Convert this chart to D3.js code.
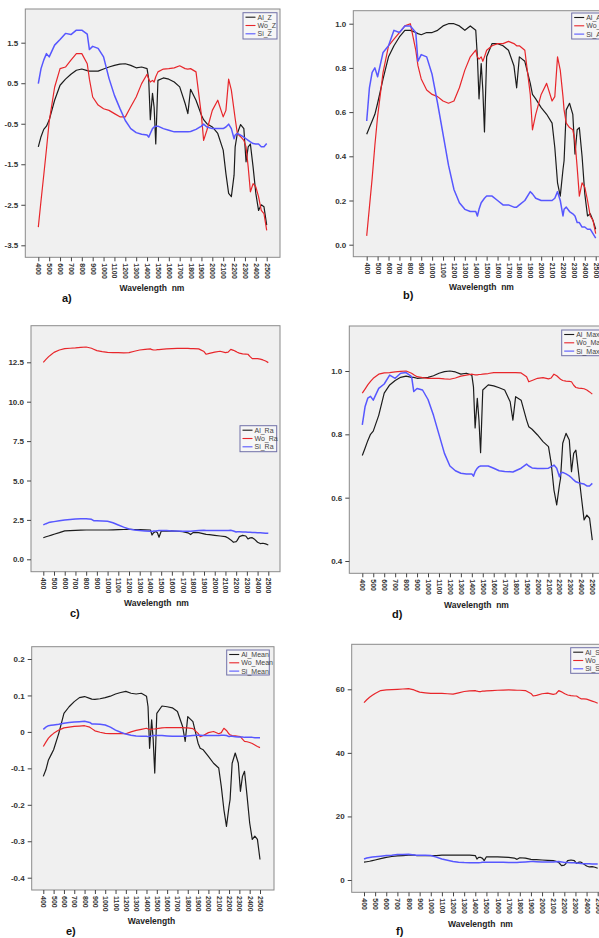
<!DOCTYPE html>
<html>
<head>
<meta charset="utf-8">
<script src="https://cdn.jsdelivr.net/npm/d3@7"></script>
<style>
  body { margin: 0; background: #fff; }
  text { font-family: "Liberation Sans", Arial, sans-serif; }
</style>
</head>
<body>
<svg id="chart" width="599" height="938"></svg>
<script>
// wavelength grid (nm) shared by every series
const wavelengths = [400,425,450,475,500,550,600,650,700,750,800,850,870,900,950,1000,1050,1100,1150,1200,1250,1300,1350,1400,1415,1430,1450,1465,1480,1500,1550,1600,1650,1700,1750,1775,1800,1850,1900,1920,1950,2000,2050,2100,2125,2150,2175,2200,2210,2230,2260,2290,2310,2330,2350,2375,2400,2425,2450,2475,2500];
const xTicks = [400,500,600,700,800,900,1000,1100,1200,1300,1400,1500,1600,1700,1800,1900,2000,2100,2200,2300,2400,2500];

// a) Z scores
const alZ = [-1.07,-0.82,-0.64,-0.56,-0.41,0.08,0.45,0.6,0.72,0.82,0.85,0.81,0.8,0.8,0.8,0.85,0.9,0.94,0.97,0.98,0.94,0.88,0.9,0.86,0.6,-0.4,0.25,-0.1,-1.0,0.57,0.63,0.6,0.53,0.41,0.0,-0.25,0.35,0.08,-0.29,-0.4,-0.5,-0.58,-0.74,-1.15,-1.73,-2.22,-2.3,-1.77,-1.07,-0.74,-0.52,-0.62,-1.44,-1.07,-1.0,-1.57,-2.22,-2.64,-2.5,-2.55,-3.0];
const woZ = [-3.05,-2.4,-1.77,-1.13,-0.45,0.4,0.86,0.9,1.07,1.23,1.23,0.98,0.6,0.16,-0.04,-0.13,-0.17,-0.25,-0.33,-0.33,-0.08,0.16,0.49,0.72,0.6,0.53,0.57,0.53,0.66,0.78,0.85,0.86,0.88,0.93,0.86,0.85,0.86,0.78,-0.3,-0.91,-0.66,-0.17,0.08,-0.33,-0.17,0.6,0.33,-0.17,-0.37,-0.74,-0.82,-0.91,-1.07,-1.57,-2.18,-1.98,-2.06,-2.3,-2.64,-2.72,-3.13];
const siZ = [0.49,0.86,1.07,1.23,1.15,1.44,1.58,1.73,1.7,1.81,1.81,1.71,1.33,1.41,1.36,1.15,0.62,0.2,-0.12,-0.42,-0.62,-0.72,-0.76,-0.78,-0.83,-0.74,-0.62,-0.58,-0.56,-0.56,-0.62,-0.66,-0.7,-0.7,-0.7,-0.7,-0.69,-0.64,-0.56,-0.51,-0.58,-0.62,-0.62,-0.62,-0.58,-0.51,-0.62,-0.87,-0.78,-0.74,-0.78,-0.83,-0.87,-0.91,-0.95,-0.99,-1.0,-1.0,-1.07,-1.07,-0.99];
const zTicks = [-3.5,-2.5,-1.5,-0.5,0.5,1.5];

// b) normalised 0-1
const alA = [0.5,0.53,0.56,0.59,0.64,0.75,0.85,0.9,0.94,0.97,0.97,0.96,0.955,0.95,0.96,0.96,0.97,0.99,1.0,1.0,0.99,0.97,0.99,0.97,0.85,0.66,0.82,0.7,0.51,0.85,0.91,0.91,0.9,0.88,0.81,0.71,0.85,0.83,0.73,0.68,0.66,0.62,0.59,0.55,0.44,0.28,0.22,0.34,0.38,0.61,0.64,0.59,0.41,0.52,0.53,0.4,0.23,0.13,0.14,0.11,0.07];
const woA = [0.04,0.17,0.3,0.45,0.58,0.78,0.9,0.93,0.96,0.99,1.0,0.88,0.81,0.75,0.7,0.68,0.67,0.65,0.64,0.65,0.71,0.79,0.85,0.88,0.85,0.84,0.85,0.83,0.85,0.88,0.9,0.91,0.91,0.92,0.91,0.9,0.9,0.88,0.68,0.52,0.59,0.68,0.73,0.65,0.67,0.85,0.79,0.67,0.61,0.55,0.53,0.52,0.47,0.35,0.22,0.28,0.26,0.2,0.13,0.11,0.05];
const siA = [0.56,0.71,0.78,0.8,0.76,0.87,0.9,0.97,0.96,0.99,0.99,0.96,0.83,0.86,0.85,0.77,0.64,0.5,0.36,0.25,0.19,0.16,0.15,0.15,0.13,0.16,0.19,0.2,0.21,0.22,0.22,0.2,0.18,0.18,0.17,0.17,0.18,0.2,0.24,0.23,0.21,0.2,0.2,0.2,0.21,0.24,0.2,0.13,0.16,0.17,0.15,0.14,0.13,0.1,0.1,0.08,0.08,0.07,0.07,0.05,0.03];
const unitTicks = [0,0.2,0.4,0.6,0.8,1.0];

// c) Ra
const alRa = [1.37,1.43,1.48,1.53,1.59,1.69,1.8,1.82,1.84,1.85,1.86,1.86,1.86,1.86,1.86,1.86,1.87,1.88,1.89,1.9,1.89,1.88,1.87,1.86,1.54,1.69,1.76,1.68,1.4,1.78,1.79,1.8,1.78,1.76,1.68,1.57,1.71,1.69,1.61,1.58,1.56,1.52,1.48,1.44,1.35,1.23,1.08,1.12,1.2,1.44,1.52,1.48,1.29,1.36,1.37,1.25,1.08,1.0,1.02,0.98,0.91];
const woRa = [12.5,12.68,12.86,13.0,13.13,13.28,13.37,13.39,13.41,13.45,13.47,13.39,13.33,13.24,13.18,13.13,13.12,13.11,13.1,13.11,13.2,13.28,13.32,13.35,13.3,13.28,13.28,13.3,13.3,13.32,13.35,13.37,13.38,13.39,13.38,13.37,13.37,13.35,13.18,13.01,13.07,13.15,13.2,13.11,13.15,13.32,13.26,13.18,13.14,13.08,13.03,13.02,13.01,12.86,12.73,12.74,12.73,12.7,12.65,12.58,12.48];
const siRa = [2.18,2.26,2.33,2.36,2.39,2.45,2.5,2.53,2.56,2.57,2.58,2.54,2.45,2.45,2.43,2.41,2.32,2.18,2.04,1.92,1.86,1.82,1.8,1.78,1.77,1.79,1.8,1.81,1.82,1.82,1.82,1.8,1.79,1.78,1.78,1.78,1.8,1.82,1.84,1.83,1.82,1.82,1.82,1.82,1.83,1.84,1.8,1.73,1.75,1.75,1.74,1.73,1.72,1.71,1.7,1.7,1.69,1.68,1.67,1.66,1.65];
const raTicks = [0,2.5,5,7.5,10,12.5];

// d) Max
const alMax = [0.733,0.756,0.78,0.8,0.81,0.86,0.93,0.956,0.97,0.98,0.984,0.98,0.98,0.977,0.978,0.98,0.985,0.993,0.998,1.0,0.997,0.99,0.993,0.987,0.95,0.82,0.914,0.845,0.742,0.94,0.956,0.953,0.947,0.94,0.903,0.845,0.919,0.908,0.845,0.824,0.816,0.798,0.777,0.761,0.708,0.624,0.577,0.64,0.661,0.772,0.803,0.782,0.682,0.74,0.75,0.677,0.603,0.53,0.545,0.535,0.466];
const woMax = [0.93,0.943,0.956,0.967,0.977,0.99,0.994,0.995,0.997,0.999,1.0,0.993,0.988,0.982,0.979,0.977,0.977,0.977,0.975,0.974,0.978,0.984,0.987,0.99,0.989,0.988,0.988,0.989,0.989,0.99,0.992,0.995,0.995,0.995,0.995,0.995,0.995,0.994,0.982,0.966,0.97,0.977,0.979,0.975,0.978,0.99,0.985,0.977,0.974,0.97,0.968,0.967,0.966,0.955,0.948,0.946,0.945,0.944,0.94,0.934,0.927];
const siMax = [0.83,0.887,0.914,0.92,0.908,0.945,0.959,0.987,0.977,0.993,0.995,0.982,0.935,0.945,0.94,0.91,0.86,0.8,0.74,0.7,0.685,0.677,0.675,0.675,0.668,0.682,0.693,0.698,0.7,0.7,0.7,0.693,0.685,0.683,0.682,0.681,0.685,0.693,0.706,0.7,0.694,0.692,0.692,0.693,0.698,0.703,0.693,0.666,0.677,0.68,0.675,0.669,0.663,0.656,0.65,0.647,0.645,0.643,0.637,0.637,0.645];
const maxTicks = [0.4,0.6,0.8,1.0];

// e) Mean
const alMean = [-0.122,-0.104,-0.077,-0.063,-0.049,-0.004,0.051,0.069,0.083,0.094,0.097,0.092,0.09,0.089,0.091,0.094,0.098,0.104,0.108,0.111,0.106,0.104,0.106,0.098,0.069,-0.045,0.033,-0.022,-0.113,0.051,0.071,0.069,0.066,0.056,0.015,-0.026,0.042,0.028,-0.031,-0.045,-0.049,-0.067,-0.086,-0.099,-0.15,-0.213,-0.259,-0.204,-0.186,-0.086,-0.058,-0.086,-0.163,-0.122,-0.108,-0.177,-0.25,-0.295,-0.286,-0.295,-0.35];
const woMean = [-0.04,-0.028,-0.017,-0.01,-0.004,0.005,0.011,0.013,0.015,0.016,0.017,0.013,0.009,0.003,-0.001,-0.004,-0.005,-0.005,-0.005,-0.005,0.0,0.004,0.007,0.01,0.008,0.007,0.007,0.008,0.008,0.009,0.011,0.012,0.012,0.012,0.012,0.011,0.011,0.009,-0.004,-0.013,-0.01,-0.002,0.001,-0.005,-0.002,0.01,0.004,-0.006,-0.008,-0.01,-0.011,-0.012,-0.013,-0.02,-0.026,-0.027,-0.029,-0.032,-0.036,-0.04,-0.043];
const siMean = [0.007,0.013,0.017,0.018,0.019,0.021,0.024,0.026,0.027,0.028,0.029,0.026,0.022,0.022,0.021,0.019,0.013,0.005,-0.001,-0.006,-0.009,-0.011,-0.012,-0.012,-0.013,-0.012,-0.011,-0.01,-0.01,-0.01,-0.01,-0.011,-0.012,-0.012,-0.012,-0.012,-0.011,-0.01,-0.009,-0.009,-0.01,-0.01,-0.01,-0.01,-0.009,-0.009,-0.01,-0.013,-0.012,-0.012,-0.013,-0.014,-0.014,-0.014,-0.015,-0.015,-0.015,-0.015,-0.016,-0.016,-0.016];
const meanTicks = [-0.4,-0.3,-0.2,-0.1,0,0.1,0.2];

// f) St
const alSt = [5.6,5.75,5.9,6.1,6.3,6.7,7.1,7.4,7.6,7.7,7.8,7.8,7.7,7.7,7.7,7.7,7.7,7.8,7.8,7.8,7.8,7.8,7.8,7.7,6.6,7.1,7.1,6.8,6.1,7.3,7.3,7.3,7.2,7.1,6.9,6.5,7.0,6.9,6.5,6.4,6.4,6.3,6.2,6.1,5.9,5.5,4.5,4.7,5.0,6.1,6.3,6.1,5.2,5.6,5.6,5.0,4.4,4.1,4.2,4.0,3.7];
const woSt = [55.8,56.7,57.5,58.1,58.7,59.6,59.8,59.9,60.0,60.1,60.2,59.8,59.5,59.1,58.9,58.7,58.7,58.7,58.6,58.5,58.9,59.3,59.5,59.6,59.4,59.3,59.3,59.4,59.4,59.5,59.6,59.7,59.75,59.8,59.75,59.7,59.7,59.6,58.7,57.9,58.1,58.6,58.8,58.4,58.6,59.6,59.2,58.7,58.5,58.2,58.0,57.9,57.9,57.4,57.0,57.0,56.9,56.6,56.3,56.0,55.6];
const siSt = [6.6,6.9,7.1,7.2,7.3,7.5,7.7,7.8,8.0,8.05,8.1,7.9,7.8,7.8,7.75,7.7,7.2,6.6,6.2,5.8,5.6,5.5,5.45,5.4,5.4,5.45,5.5,5.55,5.6,5.6,5.6,5.6,5.55,5.5,5.5,5.5,5.6,5.7,5.8,5.8,5.75,5.7,5.7,5.7,5.75,5.8,5.7,5.5,5.5,5.5,5.45,5.4,5.35,5.3,5.2,5.15,5.1,5.1,5.05,5.0,5.0];
const stTicks = [0,20,40,60];

const colors = ["#1c1c1c", "#e8262b", "#5757ff"];
const widths = [1.2, 1.2, 1.5];

const f1 = d => d.toFixed(1);
const fMean = d => (Math.abs(d) < 1e-9 ? "0" : d.toFixed(1));
const f0 = d => d.toFixed(0);

const panels = [
  {tag:"a)", names:["Al_Z","Wo_Z","Si_Z"], data:[alZ,woZ,siZ], yTicks:zTicks, fmt:f1,
   frame:{l:25.3,t:9,r:280,b:257.3}, xPix:[38.3,266.7], yRef:[[1.5,42.7],[-3.5,245.3]],
   legend:{x:243,y:12.7,w:34,h:26.3}, label:"Wavelength  nm", labelPos:[152,291], tagPos:[62,302]},
  {tag:"b)", names:["Al_A","Wo_A","Si_A"], data:[alA,woA,siA], yTicks:unitTicks, fmt:f1,
   frame:{l:353.3,t:10.7,r:609,b:256.7}, xPix:[366.7,595.7], yRef:[[1.0,23.7],[0,244.7]],
   legend:{x:571.7,y:13,w:36,h:26}, label:"Wavelength  nm", labelPos:[481.5,290], tagPos:[403,299]},
  {tag:"c)", names:["Al_Ra","Wo_Ra","Si_Ra"], data:[alRa,woRa,siRa], yTicks:raTicks, fmt:f1,
   frame:{l:31,t:325.7,r:280,b:571.7}, xPix:[43.3,268.3], yRef:[[12.5,362.3],[0,559.3]],
   legend:{x:240,y:425.7,w:36.7,h:26}, label:"Wavelength  nm", labelPos:[156.5,606], tagPos:[70,617]},
  {tag:"d)", names:["Al_Max","Wo_Max","Si_Max"], data:[alMax,woMax,siMax], yTicks:maxTicks, fmt:f1,
   frame:{l:349.3,t:326,r:605,b:573.3}, xPix:[362.3,592.3], yRef:[[1.0,371],[0.4,561]],
   legend:{x:561.7,y:330,w:44,h:25.7}, label:"Wavelength  nm", labelPos:[476.5,608], tagPos:[392,618]},
  {tag:"e)", names:["Al_Mean","Wo_Mean","Si_Mean"], data:[alMean,woMean,siMean], yTicks:meanTicks, fmt:fMean,
   frame:{l:31.7,t:646.7,r:274,b:890}, xPix:[43.3,260], yRef:[[0.2,659],[-0.4,877.7]],
   legend:{x:226.7,y:650,w:42.6,h:25}, label:"Wavelength", labelPos:[151.5,924], tagPos:[66,935]},
  {tag:"f)", names:["Al_St","Wo_St","Si_St"], data:[alSt,woSt,siSt], yTicks:stTicks, fmt:f0,
   frame:{l:351.7,t:644.3,r:611,b:892.3}, xPix:[364,597.7], yRef:[[60,689.3],[0,880]],
   legend:{x:570.7,y:647.7,w:40,h:25.6}, label:"Wavelength  nm", labelPos:[480.5,927], tagPos:[396,935]}
];

const svg = d3.select("#chart");

panels.forEach((p, pi) => {
  const fr = p.frame;
  const x = d3.scaleLinear().domain([400, 2500]).range(p.xPix);
  const y = d3.scaleLinear().domain([p.yRef[0][0], p.yRef[1][0]]).range([p.yRef[0][1], p.yRef[1][1]]);

  const g = svg.append("g");

  g.append("rect")
    .attr("x", fr.l).attr("y", fr.t)
    .attr("width", fr.r - fr.l).attr("height", fr.b - fr.t)
    .attr("fill", "#f0f0f0")
    .attr("stroke", "#8a8a8a")
    .attr("stroke-width", 1);

  const clipId = "clip" + pi;
  svg.append("clipPath").attr("id", clipId)
    .append("rect")
    .attr("x", fr.l).attr("y", fr.t)
    .attr("width", fr.r - fr.l).attr("height", fr.b - fr.t);

  // y axis
  const yAxis = g.append("g")
    .attr("transform", `translate(${fr.l},0)`)
    .call(d3.axisLeft(y).tickValues(p.yTicks).tickFormat(p.fmt).tickSize(4).tickPadding(3));
  yAxis.select(".domain").remove();
  yAxis.selectAll("line").attr("stroke", "#444");
  yAxis.selectAll("text")
    .attr("fill", "#333")
    .style("font-size", "8px")
    .style("font-weight", "bold");

  // x axis
  const xAxis = g.append("g")
    .attr("transform", `translate(0,${fr.b})`)
    .call(d3.axisBottom(x).tickValues(xTicks).tickFormat(d3.format("d")).tickSize(4));
  xAxis.select(".domain").remove();
  xAxis.selectAll("line").attr("stroke", "#444");
  xAxis.selectAll("text")
    .attr("transform", "rotate(90)")
    .attr("x", 6).attr("y", 0).attr("dy", "0.35em")
    .style("text-anchor", "start")
    .attr("fill", "#333")
    .style("font-size", "7px")
    .style("font-weight", "bold");

  // series lines
  const line = d3.line()
    .x((d, i) => x(wavelengths[i]))
    .y(d => y(d));

  const lines = g.append("g").attr("clip-path", `url(#${clipId})`);
  p.data.forEach((vals, si) => {
    if (vals.length !== wavelengths.length) console.error(p.names[si], vals.length);
    lines.append("path")
      .datum(vals)
      .attr("d", line)
      .attr("fill", "none")
      .attr("stroke", colors[si])
      .attr("stroke-width", widths[si])
      .attr("stroke-linejoin", "round");
  });

  // legend
  const lg = p.legend;
  const leg = g.append("g").attr("transform", `translate(${lg.x},${lg.y})`);
  leg.append("rect")
    .attr("width", lg.w).attr("height", lg.h)
    .attr("fill", "#f6f6f6")
    .attr("stroke", "#7070a8")
    .attr("stroke-width", 1);
  p.names.forEach((name, si) => {
    const ry = 4.5 + si * 8.3;
    leg.append("line")
      .attr("x1", 2.5).attr("x2", 12.5)
      .attr("y1", ry).attr("y2", ry)
      .attr("stroke", colors[si]).attr("stroke-width", 1.1);
    leg.append("text")
      .attr("x", 14.5).attr("y", ry)
      .attr("dy", "0.35em")
      .attr("fill", "#444")
      .style("font-size", "7px")
      .text(name);
  });

  // axis title and panel tag
  g.append("text")
    .attr("x", p.labelPos[0]).attr("y", p.labelPos[1])
    .attr("text-anchor", "middle")
    .attr("fill", "#222")
    .style("font-size", "8.5px")
    .style("font-weight", "bold")
    .style("white-space", "pre")
    .text(p.label);

  g.append("text")
    .attr("x", p.tagPos[0]).attr("y", p.tagPos[1])
    .attr("fill", "#111")
    .style("font-size", "11px")
    .style("font-weight", "bold")
    .text(p.tag);
});
</script>
</body>
</html>
